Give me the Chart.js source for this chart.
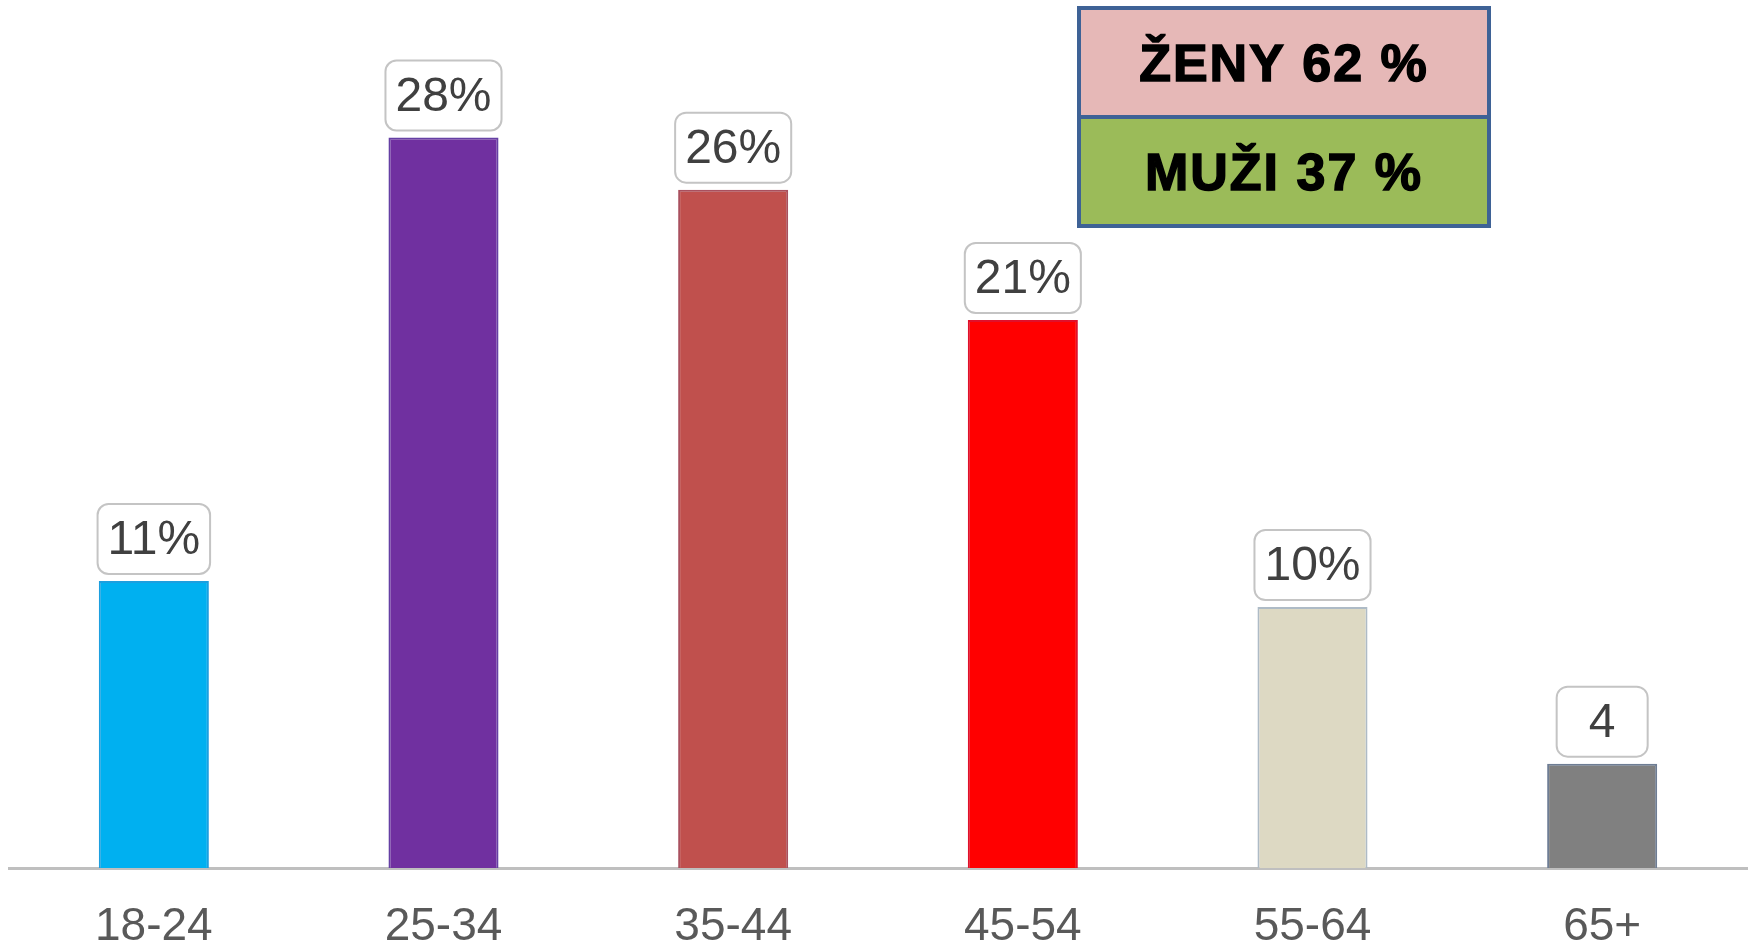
<!DOCTYPE html>
<html>
<head>
<meta charset="utf-8">
<script src="https://cdn.jsdelivr.net/npm/chart.js@4.4.1/dist/chart.umd.min.js"></script>
<style>
  html, body { margin: 0; padding: 0; background: #fff; }
  #wrap { width: 1750px; height: 944px; }
</style>
</head>
<body>
<div id="wrap"><canvas id="bar-chart"></canvas></div>
<script>
var ageGroups = ["18-24", "25-34", "35-44", "45-54", "55-64", "65+"];
var shares = [11, 28, 26, 21, 10, 4];
var shareLabels = ["11%", "28%", "26%", "21%", "10%", "4"];
var barColors = ['#00b0f0', '#7030a0', '#c0504d', '#ff0000', '#ddd9c3', '#808080'];
var barEdges = ['#1c9fdf', '#6540a4', '#a9505e', '#e0102a', '#aebbc6', '#6e7d94'];
var genderLabels = ["ŽENY 62 %", "MUŽI 37 %"];
var genderColors = ['#e6b8b7', '#9bbb59'];

// value boxes above the bars
var valueBoxes = {
    id: 'valueBoxes',
    afterDatasetsDraw: function (chart) {
        var ctx = chart.ctx;
        var meta = chart.getDatasetMeta(0);
        ctx.save();
        ctx.font = '48px "Liberation Sans", Arial, sans-serif';
        meta.data.forEach(function (bar, i) {
            var txt = shareLabels[i];
            var w = Math.max(ctx.measureText(txt).width + 20, 91);
            var h = 70;
            var x = bar.x - w / 2;
            var y = bar.y - 7 - h;
            ctx.beginPath();
            ctx.roundRect(x, y, w, h, 11);
            ctx.fillStyle = '#ffffff';
            ctx.fill();
            ctx.lineWidth = 2;
            ctx.strokeStyle = '#c4c4c4';
            ctx.stroke();
            ctx.fillStyle = '#404040';
            ctx.textAlign = 'center';
            ctx.textBaseline = 'middle';
            ctx.fillText(txt, bar.x, y + h / 2 + 2);
        });
        ctx.restore();
    }
};

// gender share box in the top right
var genderBox = {
    id: 'genderBox',
    afterDraw: function (chart) {
        var ctx = chart.ctx;
        var left = 1079, top = 8, w = 410, rowH = 109;
        ctx.save();
        genderLabels.forEach(function (txt, i) {
            ctx.fillStyle = genderColors[i];
            ctx.fillRect(left, top + i * rowH, w, rowH);
        });
        ctx.lineWidth = 4;
        ctx.strokeStyle = '#3e6296';
        genderLabels.forEach(function (txt, i) {
            ctx.strokeRect(left, top + i * rowH, w, rowH);
        });
        ctx.fillStyle = '#000000';
        ctx.strokeStyle = '#000000';
        ctx.lineWidth = 1.5;
        ctx.font = 'bold 52px "Liberation Sans", Arial, sans-serif';
        ctx.letterSpacing = '2px';
        ctx.textAlign = 'center';
        ctx.textBaseline = 'middle';
        genderLabels.forEach(function (txt, i) {
            var ty = top + i * rowH + rowH / 2 + 4;
            ctx.fillText(txt, left + w / 2, ty);
            ctx.strokeText(txt, left + w / 2, ty);
        });
        ctx.restore();
    }
};

new Chart(document.getElementById("bar-chart"), {
    type: 'bar',
    data: {
        labels: ageGroups,
        datasets: [{
            data: shares,
            backgroundColor: barColors,
            borderColor: barEdges,
            borderWidth: 2,
            barPercentage: 0.38,
            categoryPercentage: 1.0
        }]
    },
    options: {
        responsive: true,
        maintainAspectRatio: false,
        animation: false,
        layout: {
            padding: { top: 7, left: 9, right: 3, bottom: 0 }
        },
        plugins: {
            legend: { display: false },
            tooltip: { enabled: false }
        },
        scales: {
            x: {
                grid: { display: false, drawTicks: false },
                border: { display: true, color: '#bfbfbf', width: 3 },
                ticks: {
                    color: '#595959',
                    padding: 32,
                    font: { family: '"Liberation Sans", Arial, sans-serif', size: 46 }
                },
                afterFit: function (scale) { scale.height = 76; }
            },
            y: {
                display: false,
                min: 0,
                max: 33
            }
        }
    },
    plugins: [valueBoxes, genderBox]
});
</script>
</body>
</html>
